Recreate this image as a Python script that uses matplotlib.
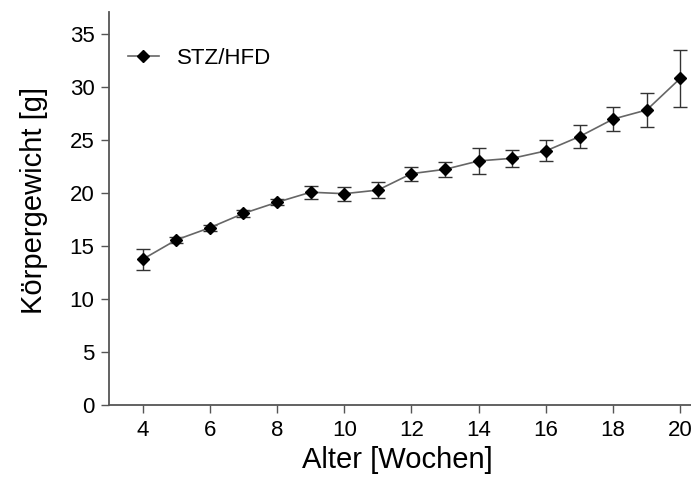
import matplotlib
matplotlib.use("Agg")
import matplotlib.pyplot as plt

weeks = [4, 5, 6, 7, 8, 9, 10, 11, 12, 13, 14, 15, 16, 17, 18, 19, 20]
weight = [13.77, 15.6, 16.75, 18.1, 19.15, 20.1, 19.96, 20.3, 21.85, 22.26,
          23.05, 23.3, 24.0, 25.35, 27.0, 27.86, 30.85]
sem = [1.0, 0.3, 0.3, 0.3, 0.3, 0.6, 0.65, 0.78, 0.65, 0.7,
       1.2, 0.8, 1.0, 1.05, 1.15, 1.6, 2.7]
series_label = "STZ/HFD"
yticks = [0, 5, 10, 15, 20, 25, 30, 35]
xticks = [4, 6, 8, 10, 12, 14, 16, 18, 20]

plt.rcParams['font.family'] = ['Liberation Sans', 'DejaVu Sans']

W, H = 691, 483
ax_l, ax_b, ax_t, ax_r = 109, 405.3, 12.3, 714
fig = plt.figure(figsize=(W / 100, H / 100), dpi=100)
ax = fig.add_axes([ax_l / W, 1 - ax_b / H, (ax_r - ax_l) / W, (ax_b - ax_t) / H])

ax.errorbar(weeks, weight, yerr=sem, fmt='none', ecolor='#333333',
            elinewidth=1.0, capsize=4.7, capthick=1.0, zorder=2)
ax.plot(weeks, weight, color='#666666', lw=1.2, marker='D', markersize=6.5,
        markerfacecolor='black', markeredgecolor='black', label=series_label, zorder=3)

ax.set_xlim(3, 21)
ax.set_ylim(0, 37.07)
ax.set_xticks(xticks)
ax.set_yticks(yticks)
for s in ['top', 'right']:
    ax.spines[s].set_visible(False)
for s in ['left', 'bottom']:
    ax.spines[s].set_color('#555555')
    ax.spines[s].set_linewidth(1.3)
ax.tick_params(axis='both', direction='out', length=6, width=1.0, colors='#555555',
               labelcolor='black', labelsize=16)
ax.tick_params(axis='x', pad=4.5)
ax.tick_params(axis='y', pad=4.5)

ax.set_xlabel("Alter [Wochen]", fontsize=21)
ax.set_ylabel("Körpergewicht [g]", fontsize=21)
ax.xaxis.set_label_coords((397 - ax_l) / (ax_r - ax_l), (ax_b - 446) / (ax_b - ax_t))
ax.yaxis.set_label_coords((48 - ax_l) / (ax_r - ax_l), (ax_b - 200) / (ax_b - ax_t))

leg = ax.legend(loc='center left', frameon=False, fontsize=16,
                bbox_to_anchor=((127.7 - ax_l) / (ax_r - ax_l), (ax_b - 58.5) / (ax_b - ax_t)),
                handlelength=1.42, handletextpad=0.8, borderpad=0, borderaxespad=0)

fig.savefig("out.png", dpi=100)
